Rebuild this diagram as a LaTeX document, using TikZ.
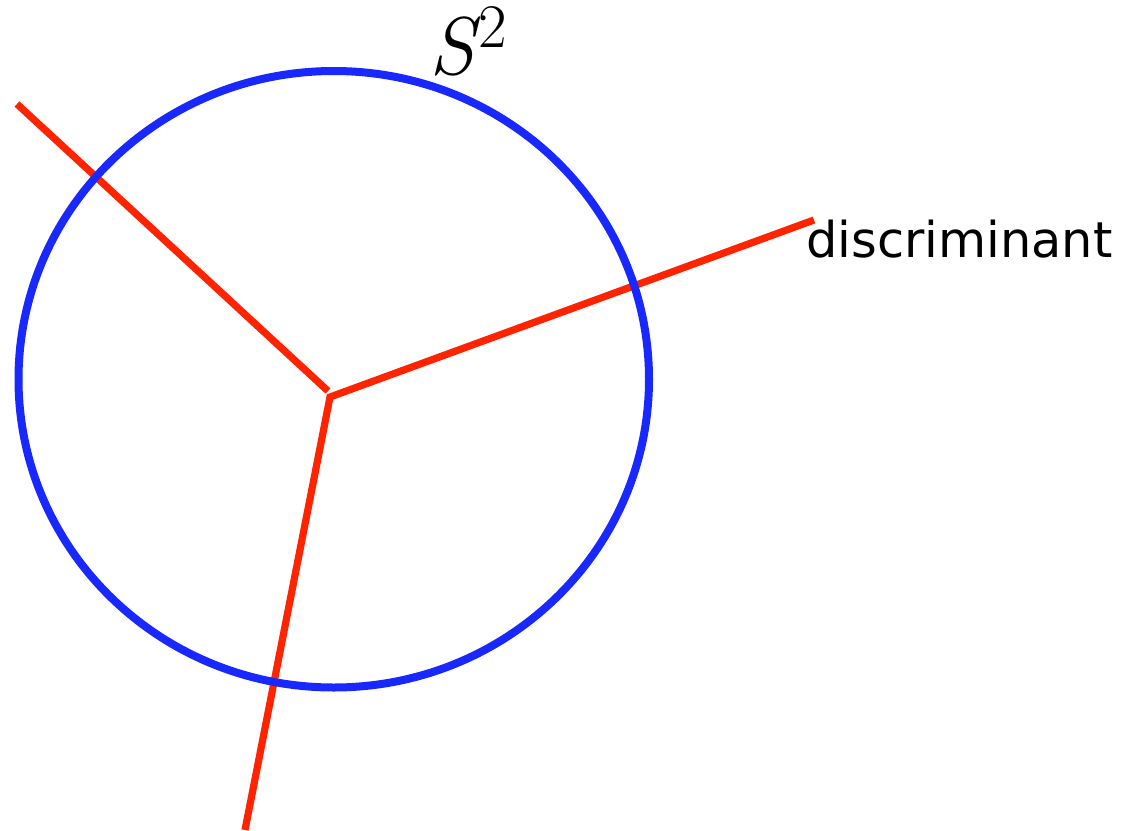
\documentclass[tikz,border=0pt]{standalone}
\usepackage{fontspec}
\newfontfamily\labelfont{DejaVu Sans}
\definecolor{sphereblue}{RGB}{25,40,255}
\definecolor{discred}{RGB}{255,35,0}
\begin{document}
\begin{tikzpicture}[x=0.5pt,y=-0.5pt,
  disc/.style={draw=discred,line width=3.6pt},
  sphere/.style={draw=sphereblue,line width=4pt},
  lbl/.style={inner sep=0pt,anchor=base west}]
\useasboundingbox (0,0) rectangle (1126,831);
\coordinate (j) at (330,397);
\coordinate (ulend) at (328,391);
\coordinate (ul) at (17,104);
\coordinate (r) at (814,220);
\coordinate (b) at (245,830);
\draw[disc] (ul) -- (ulend);
\draw[disc] (r) -- (j) -- (b);
\draw[sphere] (333.75,379.25) ellipse [x radius=315.25, y radius=308.25];
\node[lbl] (disclbl) at (806,257) {\labelfont\fontsize{24.7}{28}\selectfont discriminant};
\node[lbl] (slbl) at (429,74) {\fontsize{41}{46}\selectfont\itshape S\kern2pt\upshape\raisebox{13.5pt}{\fontsize{31}{34}\selectfont 2}};
\end{tikzpicture}
\end{document}
